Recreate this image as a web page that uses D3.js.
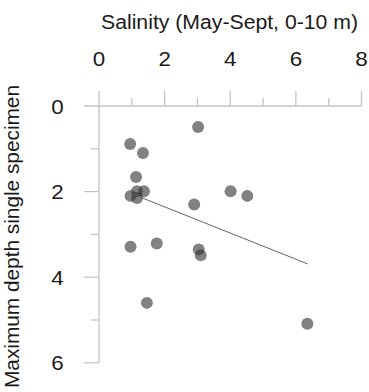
<!DOCTYPE html>
<html><head><meta charset="utf-8">
<script src="https://cdn.jsdelivr.net/npm/d3@7/dist/d3.min.js"></script>
<style>html,body{margin:0;padding:0;background:#fff;}svg{display:block;}</style>
</head><body>
<script>
const salinity = [3.02, 0.95, 1.34, 1.13, 1.16, 1.37, 0.96, 1.16, 2.90, 4.01, 4.52, 0.96, 1.76, 3.04, 3.10, 1.46, 6.35];
const depth    = [0.49, 0.89, 1.10, 1.66, 1.99, 1.99, 2.10, 2.15, 2.30, 1.99, 2.10, 3.29, 3.21, 3.35, 3.49, 4.60, 5.09];
const trendX = [1.03, 6.36];
const trendY = [2.06, 3.69];
const xTicks = [0, 2, 4, 6, 8];
const yTicks = [0, 2, 4, 6];
const xTitle = "Salinity (May-Sept, 0-10 m)";
const yTitle = "Maximum depth single specimen";

const W = 369, H = 392;
const svg = d3.select("body").append("svg").attr("width", W).attr("height", H);
const font = "'Liberation Sans', Arial, sans-serif";
const x = d3.scaleLinear().domain([0, 8]).range([99, 361.5]);
const y = d3.scaleLinear().domain([0, 6]).range([106, 362.8]);
const axisColor = "#c4c4c4";
const txt = "#1a1a1a";

// x axis (top)
const gx = svg.append("g").attr("transform", `translate(0,${y(0)})`);
gx.append("line").attr("x1", 84).attr("x2", x(8)).attr("y1", 0).attr("y2", 0)
  .attr("stroke", axisColor).attr("stroke-width", 1.3);
gx.selectAll("line.maj").data(xTicks.slice(1)).enter().append("line")
  .attr("x1", d => x(d)).attr("x2", d => x(d)).attr("y1", 0).attr("y2", -15)
  .attr("stroke", axisColor).attr("stroke-width", 1.3);
gx.selectAll("line.min").data([1,3,5,7]).enter().append("line")
  .attr("x1", d => x(d)).attr("x2", d => x(d)).attr("y1", 0).attr("y2", -8)
  .attr("stroke", axisColor).attr("stroke-width", 1.3);
svg.selectAll("text.xt").data(xTicks).enter().append("text")
  .attr("transform", d => `translate(${x(d)},66) scale(1.12,1)`).attr("text-anchor", "middle")
  .attr("font-family", font).attr("font-size", 20).attr("fill", txt).text(d => d);

// y axis (left)
svg.append("line").attr("x1", x(0)).attr("x2", x(0)).attr("y1", 91).attr("y2", y(6))
  .attr("stroke", axisColor).attr("stroke-width", 1.3);
svg.selectAll("line.ymaj").data(yTicks.slice(1)).enter().append("line")
  .attr("x1", x(0)).attr("x2", x(0) - 15).attr("y1", d => y(d)).attr("y2", d => y(d))
  .attr("stroke", axisColor).attr("stroke-width", 1.3);
svg.selectAll("line.ymin").data([1,3,5]).enter().append("line")
  .attr("x1", x(0)).attr("x2", x(0) - 8).attr("y1", d => y(d)).attr("y2", d => y(d))
  .attr("stroke", axisColor).attr("stroke-width", 1.3);
svg.selectAll("text.yt").data(yTicks).enter().append("text")
  .attr("transform", d => `translate(57.5,${y(d) + 7.5}) scale(1.12,1)`).attr("text-anchor", "middle")
  .attr("font-family", font).attr("font-size", 20).attr("fill", txt).text(d => d);

// titles
svg.append("text").attr("x", 229.5).attr("y", 29).attr("text-anchor", "middle")
  .attr("textLength", 257).attr("lengthAdjust", "spacingAndGlyphs")
  .attr("font-family", font).attr("font-size", 19.5).attr("fill", txt).text(xTitle);
svg.append("text").attr("transform", "translate(19,236.5) rotate(-90)").attr("text-anchor", "middle")
  .attr("textLength", 303).attr("lengthAdjust", "spacingAndGlyphs")
  .attr("font-family", font).attr("font-size", 19.5).attr("fill", txt).text(yTitle);

// points
const pts = salinity.map((s, i) => ({s, d: depth[i]}));
svg.selectAll("circle").data(pts).enter().append("circle")
  .attr("cx", d => x(d.s)).attr("cy", d => y(d.d)).attr("r", 6)
  .attr("fill", "#333").attr("fill-opacity", 0.62);

// trend line
svg.append("line").attr("x1", x(trendX[0])).attr("y1", y(trendY[0]))
  .attr("x2", x(trendX[1])).attr("y2", y(trendY[1]))
  .attr("stroke", "#666").attr("stroke-width", 1);
</script>
</body></html>
